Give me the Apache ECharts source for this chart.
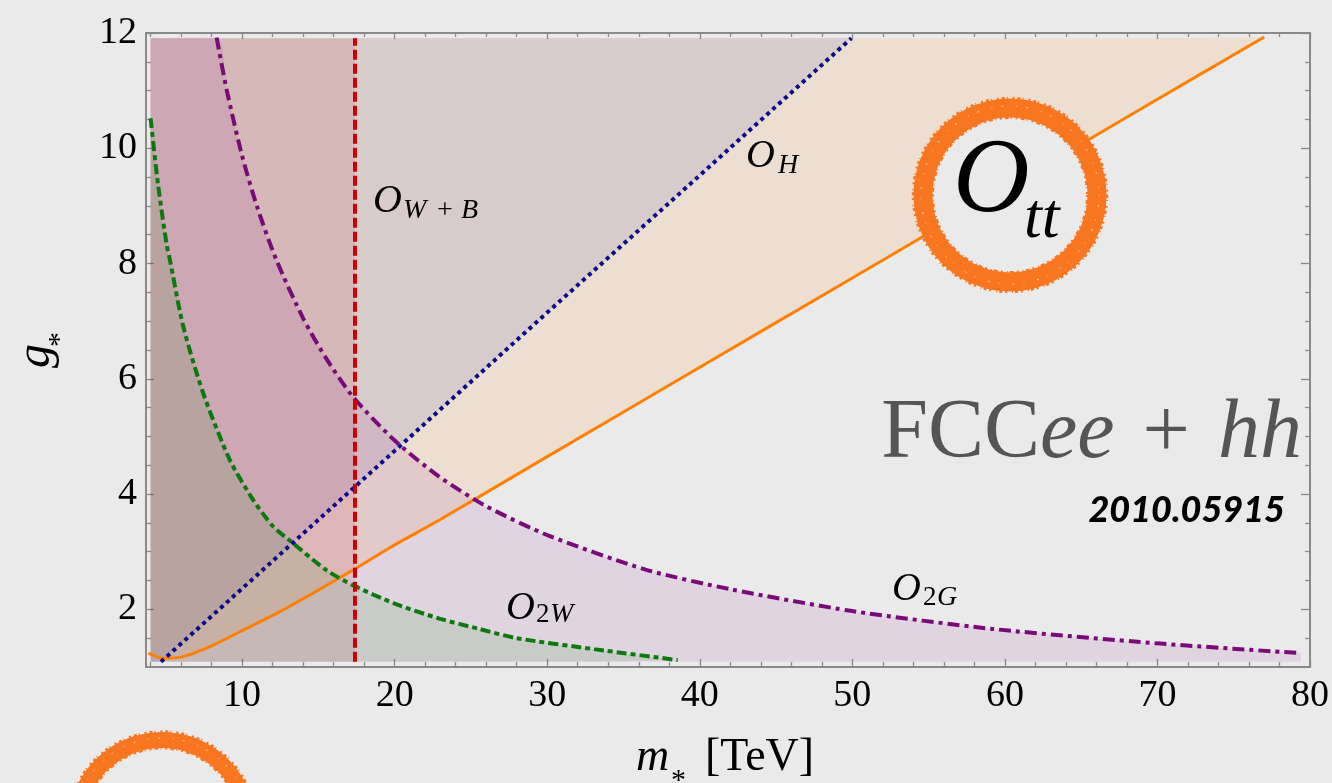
<!DOCTYPE html>
<html>
<head>
<meta charset="utf-8">
<script src="https://cdn.jsdelivr.net/npm/echarts@6/dist/echarts.min.js"></script>
<style>
  html, body { margin: 0; padding: 0; background: #eaeaea; }
  #chart { width: 1332px; height: 783px; }
</style>
</head>
<body>
<div id="chart"></div>
<script>
// ---- axis ranges and ticks ----
const xRange = [3.7, 80];
const yRange = [1, 12];
const xMajorTicks = [10, 20, 30, 40, 50, 60, 70, 80];
const xMinorTicks = [4, 6, 8, 12, 14, 16, 18, 22, 24, 26, 28, 32, 34, 36, 38, 42, 44, 46, 48, 52, 54, 56, 58, 62, 64, 66, 68, 72, 74, 76, 78];
const yMajorTicks = [2, 4, 6, 8, 10, 12];
const yMinorTicks = [1.5, 2.5, 3, 3.5, 4.5, 5, 5.5, 6.5, 7, 7.5, 8.5, 9, 9.5, 10.5, 11, 11.5];

// ---- plotted region bounds ----
const regionLeft = 4.0;
const regionTop = 11.91;
const regionBottom = 1.09;

// ---- curves (m_*, g_*) ----
const owbX = 17.4; // O_{W+B}: vertical bound
const ohLine = [[4.68, 1.09], [10, 2.36], [20, 4.75], [30, 7.15], [40, 9.53], [49.94, 11.91]];
const ottLine = [[3.86, 1.24], [4.83, 1.15], [6.14, 1.18], [8.1, 1.38], [10.29, 1.67], [12.47, 1.96], [14.64, 2.28], [17.26, 2.68], [19.88, 3.1], [22.93, 3.55], [30, 4.65], [40, 6.2], [50, 7.75], [60, 9.3], [70, 10.85], [77, 11.93]];
const ottAtLeft = [regionLeft, 1.22];
const o2gLine = [[8.33, 11.92], [9, 11.0], [10, 9.87], [11, 8.97], [12.25, 8.06], [14, 7.05], [15.5, 6.36], [17.26, 5.69], [20, 4.93], [22.93, 4.3], [26, 3.79], [30, 3.29], [36.45, 2.69], [42, 2.35], [50, 1.97], [59.2, 1.66], [70, 1.41], [79.4, 1.24]];
const o2wLine = [[4.0, 10.52], [4.5, 9.35], [5.06, 8.32], [5.27, 8.06], [6.14, 6.91], [7.45, 5.75], [9.2, 4.59], [10.72, 3.9], [12.03, 3.44], [13.1, 3.2], [15.52, 2.68], [17.26, 2.42], [20, 2.1], [22.93, 1.84], [25.55, 1.66], [28, 1.5], [33.07, 1.31], [38.55, 1.12]];

const owbFill = [[regionLeft, regionTop], [owbX, regionTop]];
const owbLine = [[owbX, regionBottom], [owbX, regionTop]];
const ohFill = [[regionLeft, regionBottom]].concat(ohLine);
const ottFill = [ottAtLeft].concat(ottLine.slice(1));
const o2gFill = [[regionLeft, regionTop]].concat(o2gLine);

const SERIF = "'Liberation Serif', 'DejaVu Serif', serif";
const AX = '#8a8a8a';

function fillSeries(data, color, origin, smooth) {
  return {
    type: 'line', data: data, showSymbol: false, silent: true, clip: true,
    smooth: smooth ? 0.25 : false,
    lineStyle: { width: 0, opacity: 0 },
    areaStyle: { color: color, origin: origin, opacity: 1 },
    z: 1
  };
}
function lineSeries(data, color, width, dash, smooth) {
  return {
    type: 'line', data: data, showSymbol: false, silent: true, clip: false,
    smooth: smooth ? 0.25 : false,
    lineStyle: { color: color, width: width, type: dash || 'solid', cap: 'butt' },
    z: 3
  };
}

function xAxisDef(pos, ticks, len, withLine, withLabel) {
  return {
    type: 'value', position: pos, min: xRange[0], max: xRange[1],
    axisLine: { show: withLine, onZero: false, lineStyle: { color: AX, width: 2 } },
    axisTick: { show: true, inside: true, length: len, customValues: ticks, lineStyle: { color: AX, width: 1.3 } },
    axisLabel: withLabel ? { show: true, customValues: ticks, fontSize: 38, fontFamily: SERIF, color: '#000', margin: 10 } : { show: false },
    splitLine: { show: false }
  };
}
function yAxisDef(pos, ticks, len, withLine, withLabel) {
  return {
    type: 'value', position: pos, min: yRange[0], max: yRange[1],
    axisLine: { show: withLine, onZero: false, lineStyle: { color: AX, width: 2 } },
    axisTick: { show: true, inside: true, length: len, customValues: ticks, lineStyle: { color: AX, width: 1.3 } },
    axisLabel: withLabel ? { show: true, customValues: ticks, fontSize: 38, fontFamily: SERIF, color: '#000', margin: 9 } : { show: false },
    splitLine: { show: false }
  };
}

function ring(cx, cy, r, w, z) {
  const col = '#f7761f';
  return [
    { type: 'circle', shape: { cx: cx, cy: cy, r: r }, style: { fill: '#eaeaea', stroke: col, lineWidth: w }, z: z, silent: true },
    { type: 'circle', shape: { cx: cx, cy: cy, r: r + w / 2 + 0.5 }, style: { fill: null, stroke: col, lineWidth: 2.5, lineDash: [3, 2, 1, 5, 2, 3] }, z: z, silent: true },
    { type: 'circle', shape: { cx: cx, cy: cy, r: r - w / 2 - 0.5 }, style: { fill: null, stroke: col, lineWidth: 2, lineDash: [2, 3, 4, 2, 1, 4] }, z: z, silent: true },
    { type: 'circle', shape: { cx: cx, cy: cy, r: r + 2 }, style: { fill: null, stroke: '#fbd2b0', lineWidth: 1, lineDash: [1, 9, 2, 13] }, z: z, silent: true }
  ];
}

function txt(x, y, text, size, opts) {
  opts = opts || {};
  return {
    type: 'text', x: x, y: y, z: 50, silent: true,
    style: {
      text: text, fontSize: size, fontFamily: opts.family || SERIF,
      fontStyle: opts.style || 'italic', fontWeight: opts.weight || 'normal',
      fill: opts.color || '#000', align: opts.align || 'left', verticalAlign: 'middle'
    }
  };
}

const chart = echarts.init(document.getElementById('chart'), null, { renderer: 'canvas' });

const graphics = [].concat(
  ring(1010, 195, 87, 19, 40),
  ring(162, 826, 86, 16, 40),
  [
    txt(953, 183, 'O', 106),
    txt(1024, 220, 'tt', 64),
    // curve labels
    txt(373, 201.5, 'O', 40), txt(403, 211, 'W', 28), txt(437, 211, '+', 28, { style: 'normal' }), txt(461, 211, 'B', 28),
    txt(746, 156.5, 'O', 40), txt(778, 166, 'H', 28),
    txt(506, 608.5, 'O', 40), txt(536, 615, '2', 27, { style: 'normal' }), txt(550, 615, 'W', 28),
    txt(892, 589.5, 'O', 40), txt(923, 598, '2', 27, { style: 'normal' }), txt(937, 598, 'G', 28),
    // FCC label
    {
      type: 'text', x: 1302, y: 435, z: 50, silent: true,
      style: {
        text: '{n|FCC}{i|ee}{n| \u200A+ \u200A}{i|hh}', align: 'right', verticalAlign: 'middle',
        rich: {
          n: { fontSize: 84, fontFamily: SERIF, fill: '#555555', fontStyle: 'normal' },
          i: { fontSize: 84, fontFamily: SERIF, fill: '#555555', fontStyle: 'italic' }
        }
      }
    },
    txt(1285, 510, '2010.05915', 36, { family: "Lato, 'Open Sans', sans-serif", weight: 900, align: 'right' }),
    // axis titles
    txt(636, 757.5, 'm', 46), txt(671, 781, '*', 30, { style: 'normal' }), txt(705, 757.5, '[TeV]', 46, { style: 'normal' }),
    {
      type: 'group', x: 48, y: 350, rotation: Math.PI / 2, z: 50,
      children: [
        { type: 'text', x: -18, y: -12, silent: true, style: { text: 'g', fontSize: 48, fontFamily: SERIF, fontStyle: 'italic', fill: '#000', align: 'left', verticalAlign: 'middle' } },
        { type: 'text', x: 3, y: 12, silent: true, style: { text: '*', fontSize: 30, fontFamily: SERIF, fill: '#000', align: 'left', verticalAlign: 'middle' } }
      ]
    }
  ]
);

chart.setOption({
  animation: false,
  backgroundColor: '#eaeaea',
  grid: { left: 146, right: 19, top: 33, bottom: 116, containLabel: false },
  xAxis: [
    xAxisDef('bottom', xMajorTicks, 8, true, true),
    xAxisDef('bottom', xMinorTicks, 5, false, false),
    xAxisDef('top', xMajorTicks, 6, true, false),
    xAxisDef('top', xMinorTicks, 4, false, false)
  ],
  yAxis: [
    yAxisDef('left', yMajorTicks, 8, true, true),
    yAxisDef('left', yMinorTicks, 5, false, false),
    yAxisDef('right', yMajorTicks, 9, true, false),
    yAxisDef('right', yMinorTicks, 5, false, false)
  ],
  series: [
    fillSeries(owbFill, 'rgba(200,0,0,0.10)', regionBottom, false),
    fillSeries(ohFill, 'rgba(0,0,150,0.09)', regionTop, false),
    fillSeries(ottFill, 'rgba(255,128,0,0.10)', regionTop, true),
    fillSeries(o2gFill, 'rgba(128,0,128,0.09)', regionBottom, true),
    fillSeries(o2wLine, 'rgba(0,128,0,0.10)', regionBottom, true),
    lineSeries(ottLine, '#ff8000', 3, null, true),
    lineSeries(o2wLine, '#0a7a0a', 4, [10, 4, 5, 4], true),
    lineSeries(o2gLine, '#7a0a7a', 4, [12, 5, 4, 5], true),
    lineSeries(ohLine, '#0a0a8c', 4, [4, 4], false),
    lineSeries(owbLine, '#cc0000', 4, [10, 4], false)
  ],
  graphic: graphics
});
</script>
</body>
</html>
